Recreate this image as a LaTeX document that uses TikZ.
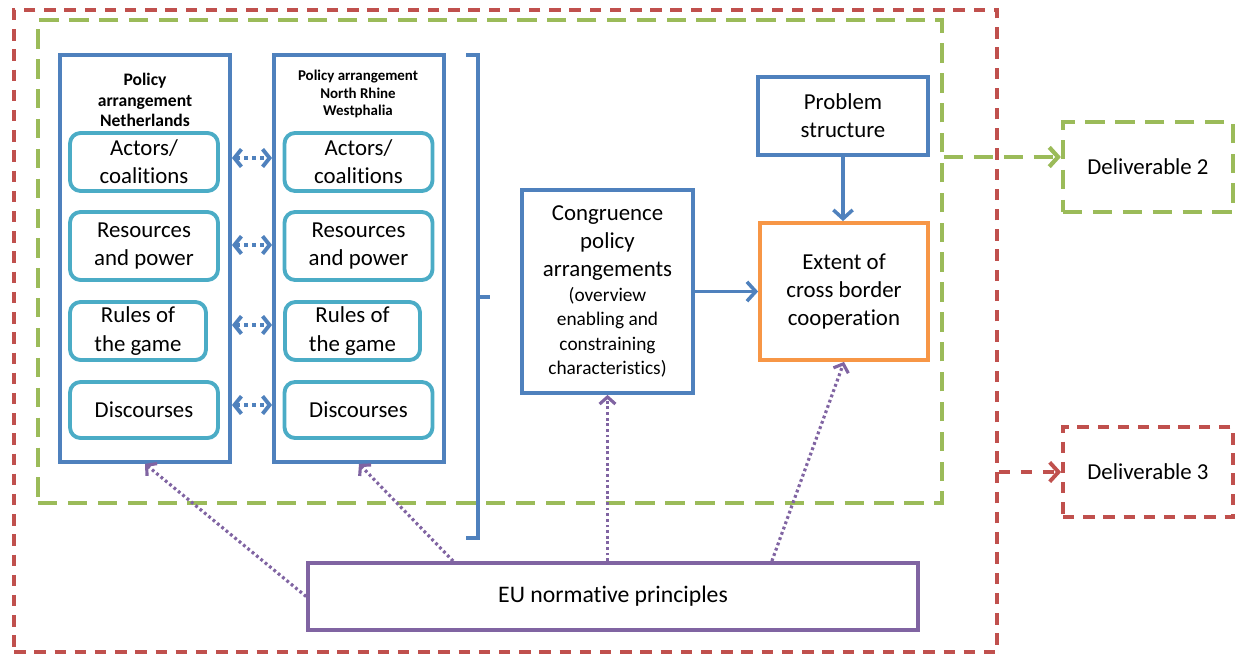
\documentclass[tikz,border=0pt]{standalone}
\usepackage{fontspec}
\setmainfont{Carlito}[Ligatures=NoCommon]
\usepackage{tikz}
\usetikzlibrary{arrows.meta, positioning, calc}

\definecolor{offBlue}{HTML}{4F81BD}
\definecolor{offAqua}{HTML}{4BACC6}
\definecolor{offOrange}{HTML}{F79646}
\definecolor{offPurple}{HTML}{8064A2}
\definecolor{offGreen}{HTML}{9BBB59}
\definecolor{offRed}{HTML}{C0504D}

\begin{document}
\begin{tikzpicture}[
        x=0.02cm, y=-0.02cm,
        box/.style={draw, line width=2.2pt, inner sep=2pt, align=center, font=\fontsize{13}{16}\selectfont},
        arrangement/.style={box, draw=offBlue, minimum width=3.4cm, minimum height=8.14cm},
        factor/.style={box, draw=offAqua, rounded corners=6pt, minimum width=2.96cm, minimum height=1.16cm},
        title/.style={align=center, font=\bfseries\fontsize{10}{11.5}\selectfont},
        greenbox/.style={draw=offGreen, line width=2.4pt, dash pattern=on 11pt off 6pt},
        redbox/.style={draw=offRed, line width=2.2pt, dash pattern=on 6.5pt off 5pt},
        exchange/.style={{Straight Barb[length=4pt,width=10pt]}-{Straight Barb[length=4pt,width=10pt]}, draw=offBlue, line width=2.2pt, dash pattern=on 2pt off 2.5pt},
        flow/.style={-{Straight Barb[length=5pt,width=11pt]}, draw=offBlue, line width=2pt},
        influence/.style={-{Straight Barb[length=4pt,width=9pt]}, draw=offPurple, line width=1.8pt, dash pattern=on 1.6pt off 1.6pt}
    ]
    \useasboundingbox (0,0) rectangle (1236,655);

    % Deliverable frames
    \node[redbox, minimum width=19.66cm, minimum height=12.84cm] (Del3Frame) at (505.5,331) {};
    \node[greenbox, minimum width=18.08cm, minimum height=9.66cm] (Del2Frame) at (490,261.5) {};

    % Policy arrangements
    \node[arrangement] (NL) at (145,258.5) {};
    \node[arrangement] (NRW) at (359,258.5) {};
    \node[title] at (145,100) {Policy\\arrangement\\Netherlands};
    \node[title, font=\bfseries\fontsize{8.5}{10}\selectfont] at (358,94) {Policy arrangement\\North Rhine\\Westphalia};

    \node[factor] (ActorsNL) at (144,162) {Actors/\\coalitions};
    \node[factor, minimum height=1.36cm] (ResourcesNL) at (144,246) {Resources\\and power};
    \node[factor, minimum width=2.72cm] (RulesNL) at (138,331) {Rules of\\the game};
    \node[factor, minimum height=1.12cm] (DiscoursesNL) at (144,410) {Discourses};

    \node[factor] (ActorsNRW) at (358.5,162) {Actors/\\coalitions};
    \node[factor, minimum height=1.36cm] (ResourcesNRW) at (358.5,246) {Resources\\and power};
    \node[factor, minimum width=2.7cm] (RulesNRW) at (352.5,331) {Rules of\\the game};
    \node[factor, minimum height=1.12cm] (DiscoursesNRW) at (358.5,410) {Discourses};

    \draw[exchange] (NL.east |- 0,158) -- (NRW.west |- 0,158);
    \draw[exchange] (NL.east |- 0,245) -- (NRW.west |- 0,245);
    \draw[exchange] (NL.east |- 0,325) -- (NRW.west |- 0,325);
    \draw[exchange] (NL.east |- 0,405) -- (NRW.west |- 0,405);

    % bracket
    \draw[offBlue, line width=2pt] (466,55) -- (478,55) -- (478,538) -- (466,538);
    \draw[offBlue, line width=2pt] (478,297) -- (490,297);

    % Congruence and cooperation
    \node[box, draw=offBlue, minimum width=3.42cm, minimum height=4.06cm] (Congruence) at (607.5,291.5)
        {Congruence\\policy\\arrangements\\[-2pt]{\fontsize{11}{13.5}\selectfont (overview}\\[-2pt]{\fontsize{11}{13.5}\selectfont enabling and}\\[-2pt]{\fontsize{11}{13.5}\selectfont constraining}\\[-2pt]{\fontsize{11}{13.5}\selectfont characteristics)}};
    \node[box, draw=offBlue, minimum width=3.4cm, minimum height=1.56cm] (Problem) at (843,116) {Problem\\structure};
    \node[box, draw=offOrange, minimum width=3.36cm, minimum height=2.74cm] (Extent) at (844,291.5) {Extent of\\cross border\\cooperation};

    \draw[flow] (Congruence.east) -- (Extent.west);
    \draw[flow] (Problem.south) -- (Problem.south |- Extent.north);

    % Deliverables
    \node[box, greenbox, minimum width=3.4cm, minimum height=1.8cm, font=\fontsize{13}{15}\selectfont] (Del2) at (1148,167) {Deliverable 2};
    \node[box, redbox, minimum width=3.4cm, minimum height=1.8cm, font=\fontsize{13}{15}\selectfont] (Del3) at (1148,472) {Deliverable 3};

    \draw[greenbox, -{Straight Barb[length=5pt,width=11pt]}] (Del2Frame.east |- 0,157) -- (Del2.west |- 0,157);
    \draw[redbox, dash pattern=on 6.5pt off 6pt, -{Straight Barb[length=5pt,width=11pt]}] (Del3Frame.east |- Del3.west) -- (Del3.west);

    % EU principles
    \node[box, draw=offPurple, minimum width=12.2cm, minimum height=1.34cm, font=\fontsize{13.5}{15}\selectfont] (EU) at (613,596.5) {EU normative principles};

    \draw[influence] (EU.west) -- (NL.south);
    \draw[influence] ($(EU.north west)+(147,0)$) -- (NRW.south);
    \draw[influence] (EU.north -| Congruence.south) -- (Congruence.south);
    \draw[influence] ($(EU.north east)+(-148,0)$) -- (Extent.south);

\end{tikzpicture}
\end{document}
